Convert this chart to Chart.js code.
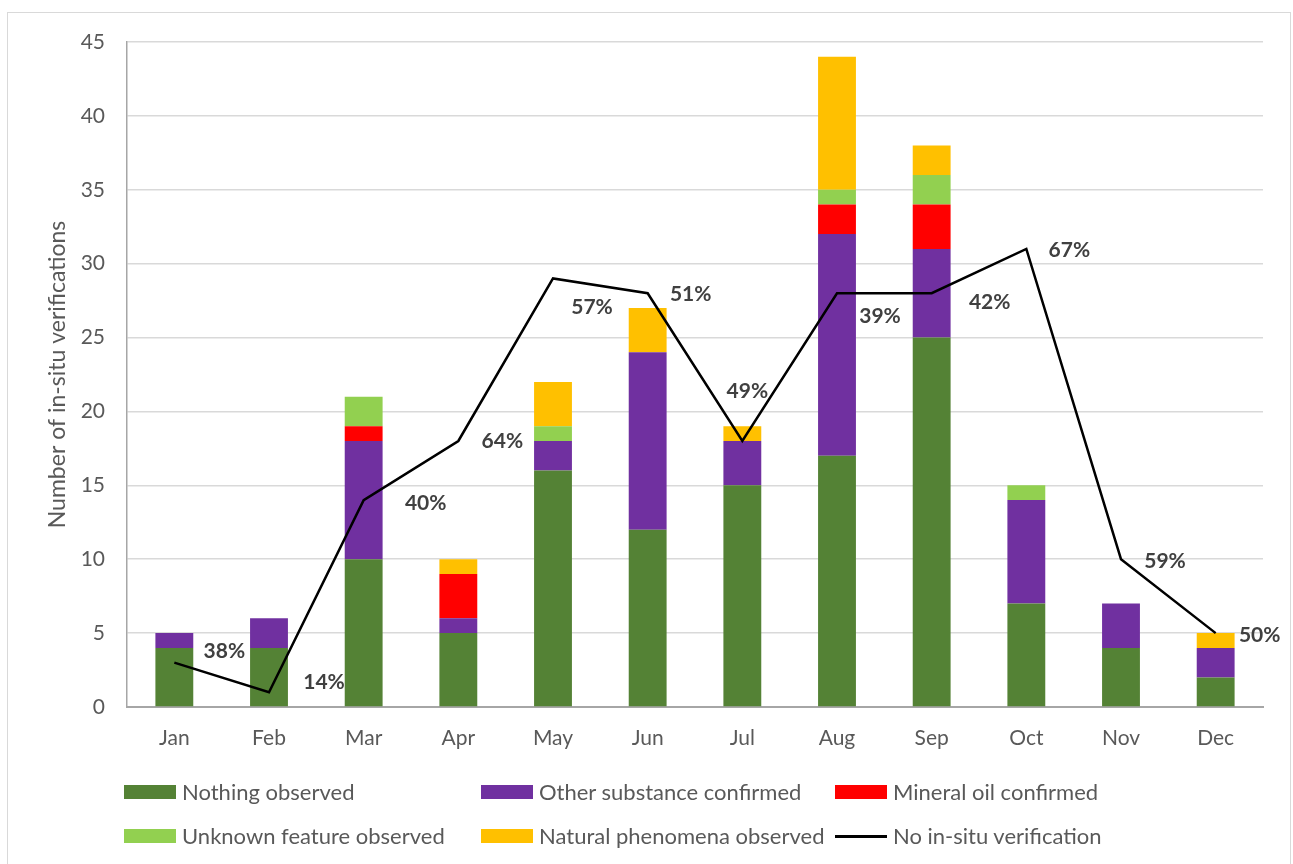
<!DOCTYPE html>
<html>
<head>
<meta charset="utf-8">
<script src="https://cdn.jsdelivr.net/npm/chart.js@4.4.1/dist/chart.umd.min.js"></script>
<style>
  html, body { margin: 0; padding: 0; background: #fff; width: 1293px; height: 864px; overflow: hidden; }
  #frame { position: absolute; left: 7px; top: 12px; width: 1284px; height: 870px; border: 1px solid #d9d9d9; box-sizing: border-box; }
  #c { position: absolute; left: 0; top: 0; }
  .lg { position: absolute; font-family: Lato, "Open Sans", sans-serif; font-size: 22px; color: #595959; white-space: nowrap; line-height: 24px; }
  .lg .sw { display: inline-block; width: 52px; height: 14px; vertical-align: middle; margin-right: 6px; position: relative; top: -2px; }
  .lg .ln { display: inline-block; width: 52px; height: 3px; background: #000; vertical-align: middle; margin-right: 6px; position: relative; top: -2px; }
</style>
</head>
<body>
<div id="frame"></div>
<canvas id="c" width="1293" height="864"></canvas>
<div id="legend"></div>
<script>
// ---- data ----
const months = ["Jan","Feb","Mar","Apr","May","Jun","Jul","Aug","Sep","Oct","Nov","Dec"];
const nothingObserved   = [4, 4, 10, 5, 16, 12, 15, 17, 25, 7, 4, 2];
const otherSubstance    = [1, 2, 8, 1, 2, 12, 3, 15, 6, 7, 3, 2];
const mineralOil        = [0, 0, 1, 3, 0, 0, 0, 2, 3, 0, 0, 0];
const unknownFeature    = [0, 0, 2, 0, 1, 0, 0, 1, 2, 1, 0, 0];
const naturalPhenomena  = [0, 0, 0, 1, 3, 3, 1, 9, 2, 0, 0, 1];
const noInSitu          = [3, 1, 14, 18, 29, 28, 18, 28, 28, 31, 10, 5];
const percentLabels     = ["38%","14%","40%","64%","57%","51%","49%","39%","42%","67%","59%","50%"];
const yTicks            = [0, 5, 10, 15, 20, 25, 30, 35, 40, 45];

// ---- styles ----
const seriesNames = ["Nothing observed","Other substance confirmed","Mineral oil confirmed","Unknown feature observed","Natural phenomena observed","No in-situ verification"];
const colors = ["#548235","#7030A0","#FF0000","#92D050","#FFC000","#000000"];
const labelOffsets = [[50,-11],[55,-10],[62,3],[44,0],[39,29],[43,1],[5,-50],[43,23],[58,9],[43,1],[44,2],[44,2]];
const FONT = 'Lato, "Open Sans", sans-serif';

const pctPlugin = {
  id: 'pctLabels',
  afterDatasetsDraw(chart) {
    const meta = chart.getDatasetMeta(5);
    const ctx = chart.ctx;
    ctx.save();
    ctx.font = 'bold 21px ' + FONT;
    ctx.fillStyle = '#404040';
    ctx.textAlign = 'center';
    ctx.textBaseline = 'middle';
    meta.data.forEach((p, i) => {
      const o = labelOffsets[i];
      ctx.fillText(percentLabels[i], p.x + o[0], p.y + o[1]);
    });
    ctx.restore();
  }
};

const barData = [nothingObserved, otherSubstance, mineralOil, unknownFeature, naturalPhenomena];
const datasets = barData.map((d, i) => ({
  type: 'bar',
  label: seriesNames[i],
  data: d,
  backgroundColor: colors[i],
  borderWidth: 0,
  barPercentage: 0.4,
  categoryPercentage: 1.0,
  stack: 'bars',
  order: 1
}));
datasets.push({
  type: 'line',
  label: seriesNames[5],
  data: noInSitu,
  borderColor: colors[5],
  borderWidth: 2.5,
  pointRadius: 0,
  tension: 0,
  fill: false,
  stack: 'line',
  order: 0
});

new Chart(document.getElementById('c'), {
  type: 'bar',
  data: { labels: months, datasets },
  options: {
    responsive: false,
    animation: false,
    devicePixelRatio: 1,
    layout: { padding: { left: 0, top: 42, right: 30, bottom: 107 } },
    plugins: { legend: { display: false }, tooltip: { enabled: false } },
    scales: {
      x: {
        stacked: true,
        grid: { display: false, drawTicks: false },
        border: { display: true, color: '#a6a6a6', width: 2 },
        ticks: { color: '#595959', font: { family: FONT, size: 21 }, padding: 19 },
        afterFit(s) { s.height = 50; }
      },
      y: {
        stacked: true,
        min: 0, max: 45,
        afterBuildTicks(s) { s.ticks = yTicks.map(v => ({ value: v })); },
        grid: { color: '#d9d9d9', lineWidth: 1.5, drawTicks: false },
        border: { display: true, color: '#a6a6a6', width: 1.5 },
        ticks: { color: '#595959', font: { family: FONT, size: 21 }, padding: 22 },
        title: { display: true, text: 'Number of in-situ verifications', color: '#595959', font: { family: FONT, size: 23 }, padding: { top: 44, bottom: 0 } },
        afterFit(s) { s.width = 127; }
      }
    }
  },
  plugins: [pctPlugin]
});

// ---- legend ----
const legendPos = [[124,780],[481,780],[835,780],[124,824],[481,824],[835,824]];
const lg = document.getElementById('legend');
seriesNames.forEach((n, i) => {
  const d = document.createElement('div');
  d.className = 'lg';
  d.style.left = legendPos[i][0] + 'px';
  d.style.top = legendPos[i][1] + 'px';
  const mark = document.createElement('span');
  if (i === 5) { mark.className = 'ln'; }
  else { mark.className = 'sw'; mark.style.background = colors[i]; }
  d.appendChild(mark);
  d.appendChild(document.createTextNode(n));
  lg.appendChild(d);
});
</script>
</body>
</html>
